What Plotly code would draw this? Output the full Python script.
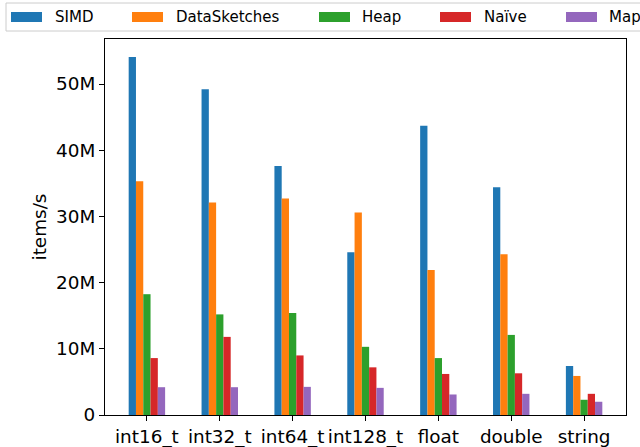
import plotly.graph_objects as go

# Throughput per element type (items per second)
categories = ["int16_t", "int32_t", "int64_t", "int128_t", "float", "double", "string"]
series_names = ["SIMD", "DataSketches", "Heap", "Naïve", "Map"]
simd = [54.1e6, 49.2e6, 37.6e6, 24.6e6, 43.7e6, 34.4e6, 7.4e6]
datasketches = [35.3e6, 32.1e6, 32.7e6, 30.6e6, 21.9e6, 24.3e6, 5.9e6]
heap = [18.25e6, 15.2e6, 15.4e6, 10.3e6, 8.6e6, 12.1e6, 2.3e6]
naive = [8.6e6, 11.8e6, 9.0e6, 7.2e6, 6.2e6, 6.3e6, 3.2e6]
map_ = [4.2e6, 4.2e6, 4.25e6, 4.1e6, 3.1e6, 3.2e6, 2.0e6]
ytick_vals = [0, 10e6, 20e6, 30e6, 40e6, 50e6]
ytick_text = ["0", "10M", "20M", "30M", "40M", "50M"]

colors = ["#1f77b4", "#ff7f0e", "#2ca02c", "#d62728", "#9467bd"]
values = [simd, datasketches, heap, naive, map_]

W, H = 640, 447
L, R, T, B = 105, 14, 39, 32
PW, PH = W - L - R, H - T - B
FONT = "DejaVu Sans"
TICK_SIZE = 18.4
LEGEND_SIZE = 15

fig = go.Figure()
for name, vals, col in zip(series_names, values, colors):
    fig.add_trace(go.Bar(x=categories, y=vals, name=name, marker_color=col,
                         marker_line_width=0, showlegend=False))

ymax = max(max(v) for v in values) * 1.05

fig.update_layout(
    width=W, height=H,
    margin=dict(l=L, r=R, t=T, b=B, pad=0),
    paper_bgcolor="white", plot_bgcolor="white",
    barmode="group", bargap=0.5, bargroupgap=0,
    font=dict(family=FONT, size=TICK_SIZE, color="black"),
)
fig.update_xaxes(
    range=[-0.575, 6.575], showgrid=False, showline=True, linecolor="black",
    linewidth=1, mirror=True, ticks="outside", ticklen=5, tickcolor="black",
    tickfont=dict(size=TICK_SIZE), zeroline=False, automargin=False,
)
fig.update_yaxes(
    range=[0, ymax], showgrid=False, showline=True, linecolor="black",
    linewidth=1, mirror=True, ticks="outside", ticklen=5, tickcolor="black",
    tickvals=ytick_vals, ticktext=ytick_text, tickfont=dict(size=TICK_SIZE),
    zeroline=False, automargin=False,
    title=dict(text="items/s", font=dict(size=TICK_SIZE), standoff=4),
)


# Legend drawn as a boxed row above the axes, placed in pixel units
def px_x(x):
    return (x - L) / PW


def px_y(y):
    return (H - B - y) / PH


fig.add_shape(type="rect", xref="paper", yref="paper",
              x0=px_x(6), x1=px_x(660), y0=px_y(31), y1=px_y(3),
              line=dict(color="#cccccc", width=1), fillcolor="white", layer="above")

patch_x = [11, 132, 319, 440, 566]
text_x = [54, 175, 361, 483, 608]
for name, col, x0, tx in zip(series_names, colors, patch_x, text_x):
    fig.add_shape(type="rect", xref="paper", yref="paper",
                  x0=px_x(x0), x1=px_x(x0 + 31), y0=px_y(22), y1=px_y(12),
                  line=dict(width=0), fillcolor=col, layer="above")
    fig.add_annotation(x=px_x(tx - 1), y=px_y(17), xref="paper", yref="paper",
                       text=name, showarrow=False, xanchor="left", yanchor="middle",
                       font=dict(size=LEGEND_SIZE, family=FONT, color="black"))

fig.write_html("out.html")
